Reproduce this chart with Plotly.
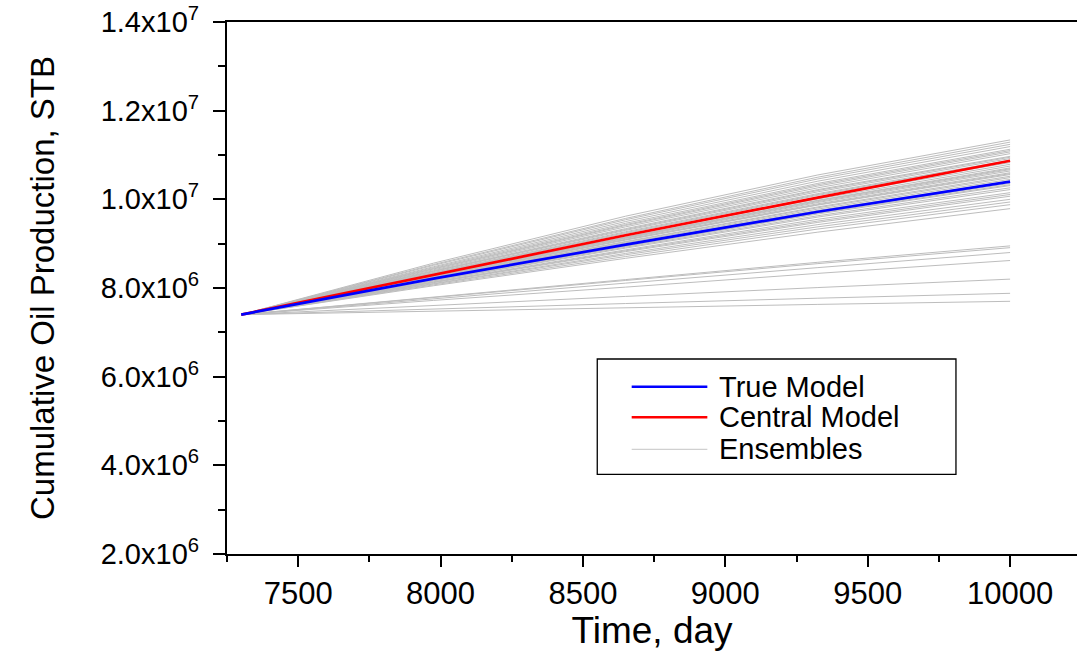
import plotly.graph_objects as go

# Time axis of the forecast (days)
time_days = [7300, 7975, 8650, 9325, 10000]

# Cumulative oil production, million STB
true_model = [7.40, 8.21, 8.98, 9.72, 10.40]
central_model = [7.40, 8.30, 9.19, 10.04, 10.87]

ensembles = [
    [7.40, 8.56, 9.62, 10.55, 11.34],
    [7.40, 8.53, 9.57, 10.50, 11.29],
    [7.40, 8.51, 9.54, 10.46, 11.24],
    [7.40, 8.48, 9.50, 10.41, 11.19],
    [7.40, 8.46, 9.46, 10.36, 11.13],
    [7.40, 8.44, 9.43, 10.33, 11.10],
    [7.40, 8.43, 9.41, 10.30, 11.07],
    [7.40, 8.41, 9.38, 10.26, 11.03],
    [7.40, 8.39, 9.34, 10.22, 10.97],
    [7.40, 8.38, 9.32, 10.20, 10.95],
    [7.40, 8.37, 9.30, 10.17, 10.92],
    [7.40, 8.35, 9.27, 10.13, 10.88],
    [7.40, 8.34, 9.25, 10.11, 10.86],
    [7.40, 8.33, 9.23, 10.09, 10.83],
    [7.40, 8.32, 9.20, 10.05, 10.79],
    [7.40, 8.31, 9.18, 10.01, 10.75],
    [7.40, 8.29, 9.15, 9.98, 10.71],
    [7.40, 8.29, 9.14, 9.97, 10.69],
    [7.40, 8.28, 9.13, 9.95, 10.67],
    [7.40, 8.28, 9.12, 9.93, 10.64],
    [7.40, 8.26, 9.10, 9.90, 10.60],
    [7.40, 8.26, 9.09, 9.88, 10.58],
    [7.40, 8.25, 9.08, 9.87, 10.56],
    [7.40, 8.24, 9.05, 9.83, 10.52],
    [7.40, 8.23, 9.04, 9.81, 10.49],
    [7.40, 8.22, 9.02, 9.78, 10.45],
    [7.40, 8.21, 9.00, 9.75, 10.41],
    [7.40, 8.20, 8.97, 9.71, 10.36],
    [7.40, 8.19, 8.95, 9.69, 10.33],
    [7.40, 8.19, 8.94, 9.67, 10.31],
    [7.40, 8.17, 8.92, 9.63, 10.26],
    [7.40, 8.16, 8.90, 9.60, 10.22],
    [7.40, 8.14, 8.86, 9.55, 10.15],
    [7.40, 8.13, 8.84, 9.51, 10.11],
    [7.40, 8.12, 8.82, 9.48, 10.07],
    [7.40, 8.10, 8.78, 9.43, 10.00],
    [7.40, 8.09, 8.75, 9.38, 9.94],
    [7.40, 8.07, 8.71, 9.33, 9.88],
    [7.40, 8.05, 8.67, 9.26, 9.79],
    [7.40, 7.80, 8.19, 8.58, 8.95],
    [7.40, 7.79, 8.17, 8.55, 8.91],
    [7.40, 7.76, 8.11, 8.46, 8.80],
    [7.40, 7.72, 8.02, 8.33, 8.62],
    [7.40, 7.61, 7.81, 8.01, 8.20],
    [7.40, 7.53, 7.65, 7.77, 7.88],
    [7.40, 7.48, 7.55, 7.63, 7.70],
]

y_tick_vals = [2e6, 4e6, 6e6, 8e6, 1e7, 1.2e7, 1.4e7]
y_tick_text = ["2.0x10<sup>6</sup>", "4.0x10<sup>6</sup>", "6.0x10<sup>6</sup>",
               "8.0x10<sup>6</sup>", "1.0x10<sup>7</sup>", "1.2x10<sup>7</sup>",
               "1.4x10<sup>7</sup>"]
x_tick_vals = [7500, 8000, 8500, 9000, 9500, 10000]

legend_labels = ["True Model", "Central Model", "Ensembles"]
legend_colors = ["#0000ff", "#ff0000", "#d0d0d0"]
legend_widths = [2.5, 2.5, 1.2]

FONT = "Liberation Sans, Arial, sans-serif"
M = 1e6

fig = go.Figure()

for run in ensembles:
    fig.add_trace(go.Scatter(
        x=time_days, y=[v * M for v in run], mode="lines",
        line=dict(color="#bdbdbd", width=1), showlegend=False, hoverinfo="skip"))

fig.add_trace(go.Scatter(
    x=time_days, y=[v * M for v in central_model], mode="lines",
    line=dict(color="#ff0000", width=2.7), name="Central Model", showlegend=False))
fig.add_trace(go.Scatter(
    x=time_days, y=[v * M for v in true_model], mode="lines",
    line=dict(color="#0000ff", width=2.7), name="True Model", showlegend=False))

# Hand-drawn legend box with long line samples
fig.add_shape(type="rect", xref="paper", yref="paper",
              x0=0.4356, x1=0.8576, y0=0.1498, y1=0.3665,
              line=dict(color="black", width=1.3), fillcolor="white", layer="above")
legend_y = [0.3145, 0.2570, 0.1968]
for label, color, width, ly in zip(legend_labels, legend_colors, legend_widths, legend_y):
    fig.add_shape(type="line", xref="paper", yref="paper",
                  x0=0.4761, x1=0.5651, y0=ly, y1=ly,
                  line=dict(color=color, width=width), layer="above")
    fig.add_annotation(x=0.5761, y=ly, xref="paper", yref="paper",
                       text=label, showarrow=False, xanchor="left", yanchor="middle",
                       font=dict(family=FONT, size=29, color="black"))

fig.update_layout(
    width=1077, height=651,
    margin=dict(l=227, r=0, t=22, b=97),
    paper_bgcolor="white", plot_bgcolor="white",
    font=dict(family=FONT, color="black"),
    showlegend=False,
)

fig.update_xaxes(
    range=[7250, 10235],
    tickvals=x_tick_vals, ticktext=[str(v) for v in x_tick_vals],
    ticks="outside", ticklen=11, tickwidth=2, tickcolor="black",
    minor=dict(tickvals=[7250, 7750, 8250, 8750, 9250, 9750], ticks="outside",
               ticklen=6, tickwidth=2, tickcolor="black", showgrid=False),
    showline=True, linecolor="black", linewidth=2.3, mirror=True,
    showgrid=False, zeroline=False,
    tickfont=dict(family=FONT, size=31),
    title=dict(text="Time, day", font=dict(family=FONT, size=37), standoff=10),
)
fig.update_yaxes(
    range=[2e6, 1.4e7],
    tickvals=y_tick_vals, ticktext=y_tick_text,
    ticks="outside", ticklen=12, tickwidth=2, tickcolor="black",
    minor=dict(tickvals=[3e6, 5e6, 7e6, 9e6, 1.1e7, 1.3e7], ticks="outside",
               ticklen=7, tickwidth=2, tickcolor="black", showgrid=False),
    showline=True, linecolor="black", linewidth=2.3, mirror=False,
    showgrid=False, zeroline=False,
    tickfont=dict(family=FONT, size=29),
    ticklabelstandoff=8,
    title=dict(text="Cumulative Oil Production, STB",
               font=dict(family=FONT, size=33), standoff=36),
)

fig.write_html("out.html")
